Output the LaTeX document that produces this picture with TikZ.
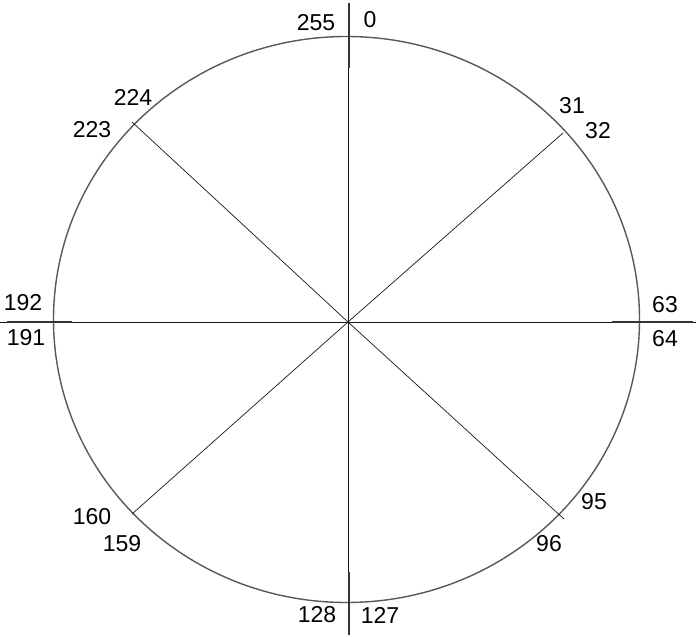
\documentclass[tikz,border=0pt]{standalone}
\usepackage{fontspec}
\setmainfont{Liberation Sans}
\begin{document}
\begin{tikzpicture}[x=1pt,y=-1pt,
  lbl/.style={font=\fontsize{23}{23}\selectfont, text=black, inner sep=0pt},
  thinax/.style={draw=black!90, line width=0.8pt},
  thickax/.style={draw=black!80, line width=2pt},
  diag/.style={draw=black!90, line width=0.7pt},
  rim/.style={draw=black!65, line width=1.4pt}]
\useasboundingbox (0,0) rectangle (696,637);
\fill[white] (0,0) rectangle (696,637);
% coordinates
\coordinate (c) at (348,322);
\coordinate (top) at (348,3);
\coordinate (bot) at (348,635);
\coordinate (lft) at (0,322);
\coordinate (rgt) at (696,322);
\coordinate (ur) at (563,133);
\coordinate (ul) at (132,122);
\coordinate (ll) at (132,514);
\coordinate (lr) at (564,519);
\coordinate (tt1) at (349,3);
\coordinate (tt2) at (349,68);
\coordinate (bt1) at (349,572);
\coordinate (bt2) at (349,635);
\coordinate (lt1) at (7,322);
\coordinate (lt2) at (72,322);
\coordinate (rt1) at (612,322);
\coordinate (rt2) at (693,322);
% circle
\draw[rim] (346.5,319.5) ellipse [x radius=293, y radius=283];
% axes
\draw[thinax] (top) -- (bot);
\draw[thinax] (lft) -- (rgt);
\draw[thickax] (tt1) -- (tt2);
\draw[thickax] (bt1) -- (bt2);
\draw[thickax] (lt1) -- (lt2);
\draw[thickax] (rt1) -- (rt2);
% diagonals
\draw[diag] (c) -- (ur);
\draw[diag] (c) -- (ul);
\draw[diag] (c) -- (ll);
\draw[diag] (c) -- (lr);
% labels
\node[lbl] (l255) at (316,23) {255};
\node[lbl] (l0) at (370,20) {0};
\node[lbl] (l31) at (572,106) {31};
\node[lbl] (l32) at (598,131) {32};
\node[lbl] (l224) at (133,97) {224};
\node[lbl] (l223) at (92,130) {223};
\node[lbl] (l192) at (23,303) {192};
\node[lbl] (l191) at (26,338) {191};
\node[lbl] (l63) at (665,305) {63};
\node[lbl] (l64) at (665,339) {64};
\node[lbl] (l160) at (92,517) {160};
\node[lbl] (l159) at (122,544) {159};
\node[lbl] (l95) at (594,502) {95};
\node[lbl] (l96) at (549,544) {96};
\node[lbl] (l128) at (317,615) {128};
\node[lbl] (l127) at (380,615) {127};
\end{tikzpicture}
\end{document}
